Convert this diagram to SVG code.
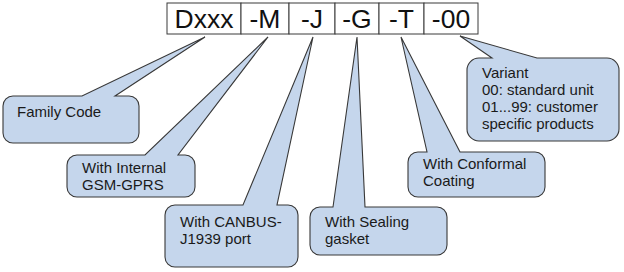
<svg xmlns="http://www.w3.org/2000/svg" width="624" height="272" viewBox="0 0 624 272">
<style>
.bg{fill:#ffffff}
.cell{fill:#ffffff;stroke:#3a3a3a;stroke-width:1}
.hdr{font-family:"Liberation Sans",Arial,sans-serif;font-size:26.5px;fill:#111111;text-anchor:middle}
.co{fill:#c5d6ec;stroke:#383838;stroke-width:1.1}
.lbl{font-family:"Liberation Sans",Arial,sans-serif;font-size:15px;fill:#1a1a1a}
</style>
<rect class="bg" x="0" y="0" width="624" height="272"/>
<g id="code">
<rect class="cell" x="167" y="3" width="74" height="31"/>
<rect class="cell" x="241" y="3" width="48" height="31"/>
<rect class="cell" x="289" y="3" width="46" height="31"/>
<rect class="cell" x="335" y="3" width="44" height="31"/>
<rect class="cell" x="379" y="3" width="45" height="31"/>
<rect class="cell" x="424" y="3" width="54" height="31"/>
<text class="hdr" x="204" y="28">Dxxx</text>
<text class="hdr" x="265" y="28">-M</text>
<text class="hdr" x="312" y="28">-J</text>
<text class="hdr" x="357" y="28">-G</text>
<text class="hdr" x="401.5" y="28">-T</text>
<text class="hdr" x="451" y="28">-00</text>
</g>
<g id="connectors"></g>
<g id="family">
<path class="co" d="M13,96 H82 L205,37 L115,96 H129 A10,10 0 0 1 139,106 V133 A10,10 0 0 1 129,143 H13 A10,10 0 0 1 3,133 V106 A10,10 0 0 1 13,96 Z"/>
<text class="lbl" x="17" y="117">Family Code</text>
</g>
<g id="gsm">
<path class="co" d="M77,155 H145 L268,37 L178,155 H185 A10,10 0 0 1 195,165 V187 A10,10 0 0 1 185,197 H77 A10,10 0 0 1 67,187 V165 A10,10 0 0 1 77,155 Z"/>
<text class="lbl" x="82" y="173">With Internal</text>
<text class="lbl" x="82" y="190">GSM-GPRS</text>
</g>
<g id="canbus">
<path class="co" d="M175,205 H243 L313,37 L277,205 H288 A10,10 0 0 1 298,215 V257 A10,10 0 0 1 288,267 H175 A10,10 0 0 1 165,257 V215 A10,10 0 0 1 175,205 Z"/>
<text class="lbl" x="180" y="227">With CANBUS-</text>
<text class="lbl" x="180" y="244">J1939 port</text>
</g>
<g id="sealing">
<path class="co" d="M320,207 H333 L357,37 L365,207 H437 A10,10 0 0 1 447,217 V245 A10,10 0 0 1 437,255 H320 A10,10 0 0 1 310,245 V217 A10,10 0 0 1 320,207 Z"/>
<text class="lbl" x="325" y="227">With Sealing</text>
<text class="lbl" x="325" y="244">gasket</text>
</g>
<g id="conformal">
<path class="co" d="M418,152 H427 L401,37 L460,152 H535 A10,10 0 0 1 545,162 V187 A10,10 0 0 1 535,197 H418 A10,10 0 0 1 408,187 V162 A10,10 0 0 1 418,152 Z"/>
<text class="lbl" x="423" y="169">With Conformal</text>
<text class="lbl" x="423" y="186">Coating</text>
</g>
<g id="variant">
<path class="co" d="M479,58 H492 L460,36 L537,58 H607 A12,12 0 0 1 619,70 V129 A12,12 0 0 1 607,141 H479 A12,12 0 0 1 467,129 V70 A12,12 0 0 1 479,58 Z"/>
<text class="lbl" x="482" y="78">Variant</text>
<text class="lbl" x="482" y="95">00: standard unit</text>
<text class="lbl" x="482" y="112">01...99: customer</text>
<text class="lbl" x="482" y="129">specific products</text>
</g>
</svg>
